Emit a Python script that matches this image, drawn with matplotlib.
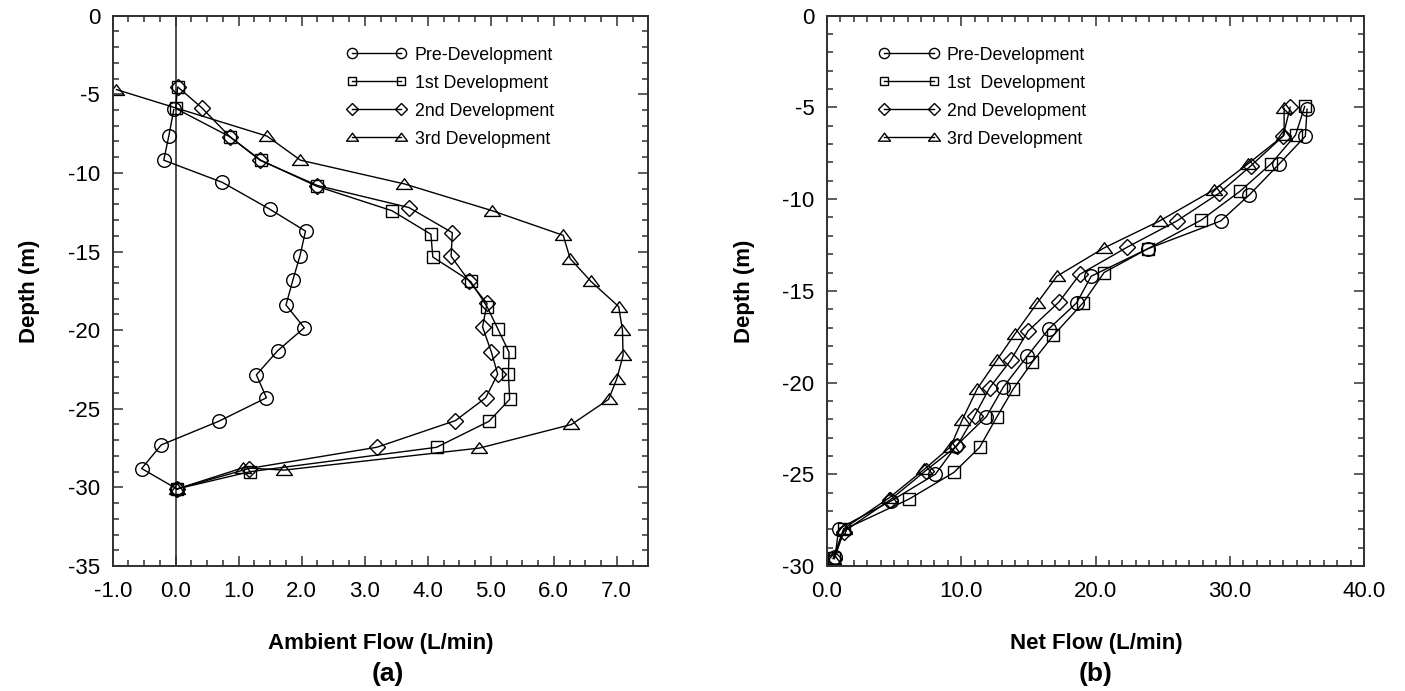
import matplotlib
matplotlib.use("Agg")
import matplotlib.pyplot as plt
from matplotlib.path import Path
from matplotlib.ticker import MultipleLocator, FormatStrFormatter

plt.rcParams['font.family'] = ['Liberation Sans', 'DejaVu Sans']
plt.rcParams['axes.unicode_minus'] = False

# ---------------- data: panel (a) Ambient flow ----------------
pre_x_a = [-0.03, -0.11, -0.19, 0.74, 1.49, 2.06, 1.97, 1.86, 1.75, 2.04, 1.62, 1.28, 1.44, 0.68, -0.23, -0.54, 0.02]
pre_y_a = [-5.96, -7.66, -9.19, -10.6, -12.3, -13.7, -15.3, -16.8, -18.4, -19.85, -21.3, -22.84, -24.3, -25.8, -27.3, -28.8, -30.1]

dev1_x_a = [0.03, 0.0, 0.86, 1.35, 2.24, 3.43, 4.05, 4.08, 4.68, 4.94, 5.11, 5.29, 5.28, 5.3, 4.97, 4.14, 1.18, 0.02]
dev1_y_a = [-4.55, -5.9, -7.7, -9.19, -10.85, -12.4, -13.9, -15.35, -16.9, -18.5, -19.9, -21.4, -22.8, -24.4, -25.8, -27.45, -29.0, -30.1]

dev2_x_a = [0.04, 0.41, 0.86, 1.34, 2.25, 3.70, 4.39, 4.37, 4.66, 4.94, 4.87, 5.01, 5.11, 4.92, 4.44, 3.19, 1.16, 0.02]
dev2_y_a = [-4.56, -5.84, -7.7, -9.2, -10.8, -12.2, -13.8, -15.3, -16.9, -18.3, -19.8, -21.4, -22.8, -24.3, -25.75, -27.45, -28.8, -30.1]

dev3_x_a = [-0.94, 1.45, 1.98, 3.63, 5.02, 6.15, 6.26, 6.59, 7.03, 7.09, 7.10, 7.0, 6.87, 6.28, 4.82, 1.72, 1.07, 0.02]
dev3_y_a = [-4.7, -7.66, -9.19, -10.7, -12.4, -13.97, -15.45, -16.9, -18.5, -20.0, -21.6, -23.1, -24.4, -26.0, -27.5, -28.9, -28.75, -30.1]

# ---------------- data: panel (b) Net flow ----------------
pre_x_b = [35.76, 35.63, 33.7, 31.47, 29.33, 23.91, 19.68, 18.6, 16.54, 14.93, 13.13, 11.87, 9.63, 8.08, 4.78, 0.87, 0.6]
pre_y_b = [-5.1, -6.57, -8.07, -9.76, -11.19, -12.7, -14.2, -15.65, -17.06, -18.55, -20.25, -21.86, -23.44, -24.99, -26.45, -27.97, -29.5]

dev1_x_b = [35.58, 34.9, 33.08, 30.75, 27.88, 23.91, 20.64, 19.08, 16.87, 15.3, 13.88, 12.64, 11.37, 9.45, 6.09, 1.29, 0.5]
dev1_y_b = [-4.95, -6.51, -8.07, -9.58, -11.14, -12.7, -14.0, -15.65, -17.42, -18.88, -20.34, -21.89, -23.53, -24.9, -26.36, -28.0, -29.55]

dev2_x_b = [34.5, 33.97, 31.55, 29.22, 26.06, 22.36, 18.83, 17.29, 14.98, 13.68, 12.11, 11.0, 9.7, 7.34, 4.68, 1.24, 0.55]
dev2_y_b = [-4.99, -6.57, -8.2, -9.67, -11.19, -12.62, -14.1, -15.6, -17.19, -18.79, -20.29, -21.8, -23.44, -24.81, -26.41, -28.13, -29.6]

dev3_x_b = [34.05, 34.05, 31.37, 28.8, 24.77, 20.64, 17.13, 15.67, 13.98, 12.64, 11.19, 10.07, 9.2, 7.26, 4.6, 1.24, 0.45]
dev3_y_b = [-5.05, -6.51, -8.07, -9.5, -11.19, -12.66, -14.2, -15.65, -17.37, -18.79, -20.34, -22.04, -23.5, -24.72, -26.3, -27.97, -29.6]

labels_a = ["Pre-Development", "1st Development", "2nd Development", "3rd Development"]
labels_b = ["Pre-Development", "1st  Development", "2nd Development", "3rd Development"]

# ---------------- styling ----------------
tri = Path([(0, 0.72), (-1, -0.62), (1, -0.62), (0, 0.72)],
           [Path.MOVETO, Path.LINETO, Path.LINETO, Path.CLOSEPOLY])
styles = [dict(marker='o', markersize=9.8),
          dict(marker='s', markersize=8.4),
          dict(marker='D', markersize=7.8),
          dict(marker=tri, markersize=11.5)]
spine_c = '#303030'

fig = plt.figure(figsize=(14.05, 6.91), dpi=100)
W, H = 1405, 691
axa = fig.add_axes([112.7 / W, 1 - 566 / H, 535.6 / W, 550.3 / H])
axb = fig.add_axes([827 / W, 1 - 566 / H, 537 / W, 550.3 / H])


def style_axis(ax):
    for s in ax.spines.values():
        s.set_color(spine_c)
        s.set_linewidth(1.4)
    ax.tick_params(which='both', direction='in', top=True, right=True,
                   colors=spine_c, width=1.1, labelcolor='black')
    ax.tick_params(which='major', length=7)
    ax.tick_params(which='minor', length=4.5)
    ax.tick_params(axis='x', labelsize=16, pad=11)
    ax.tick_params(axis='y', labelsize=16, pad=9)


def draw(ax, xs, ys, labels):
    for x, y, st, lab in zip(xs, ys, styles, labels):
        ax.plot(x, y, color='black', lw=1.0, mfc='none', mec='black',
                mew=1.0, label=lab, **st)


legend_kw = dict(loc='upper left', frameon=False, fontsize=12.8, numpoints=2,
                 handlelength=3.4, handletextpad=0.45, labelspacing=0.62,
                 borderpad=0, borderaxespad=0, markerscale=0.75)

# panel (a)
draw(axa, [pre_x_a, dev1_x_a, dev2_x_a, dev3_x_a],
     [pre_y_a, dev1_y_a, dev2_y_a, dev3_y_a], labels_a)
axa.axvline(0, color=spine_c, lw=1.2, zorder=0)
axa.set_xlim(-1.0, 7.5)
axa.set_ylim(-35, 0)
axa.xaxis.set_minor_locator(MultipleLocator(0.25))
axa.yaxis.set_major_locator(MultipleLocator(5))
axa.yaxis.set_minor_locator(MultipleLocator(1))
axa.set_xticks([-1, 0, 1, 2, 3, 4, 5, 6, 7])
axa.xaxis.set_major_formatter(FormatStrFormatter('%.1f'))
style_axis(axa)
axa.legend(bbox_to_anchor=(0.436, 0.944), **legend_kw)

# panel (b)
draw(axb, [pre_x_b, dev1_x_b, dev2_x_b, dev3_x_b],
     [pre_y_b, dev1_y_b, dev2_y_b, dev3_y_b], labels_b)
axb.set_xlim(0, 40)
axb.set_ylim(-30, 0)
axb.xaxis.set_major_locator(MultipleLocator(10))
axb.xaxis.set_minor_locator(MultipleLocator(1))
axb.yaxis.set_major_locator(MultipleLocator(5))
axb.yaxis.set_minor_locator(MultipleLocator(1))
axb.xaxis.set_major_formatter(FormatStrFormatter('%.1f'))
style_axis(axb)
axb.legend(bbox_to_anchor=(0.096, 0.944), **legend_kw)

# axis titles
fig.text(30 / W, 1 - 291 / H, "Depth (m)", rotation=90, ha='center', va='center',
         fontsize=16, fontweight='bold')
fig.text(745 / W, 1 - 291 / H, "Depth (m)", rotation=90, ha='center', va='center',
         fontsize=16, fontweight='bold')
fig.text(381 / W, 1 - 643 / H, "Ambient Flow (L/min)", ha='center', va='center',
         fontsize=16, fontweight='bold')
fig.text(388 / W, 1 - 674 / H, "(a)", ha='center', va='center',
         fontsize=19, fontweight='bold')
fig.text(1096 / W, 1 - 643 / H, "Net Flow (L/min)", ha='center', va='center',
         fontsize=16, fontweight='bold')
fig.text(1096 / W, 1 - 674 / H, "(b)", ha='center', va='center',
         fontsize=19, fontweight='bold')

fig.savefig("out.png", dpi=100)
